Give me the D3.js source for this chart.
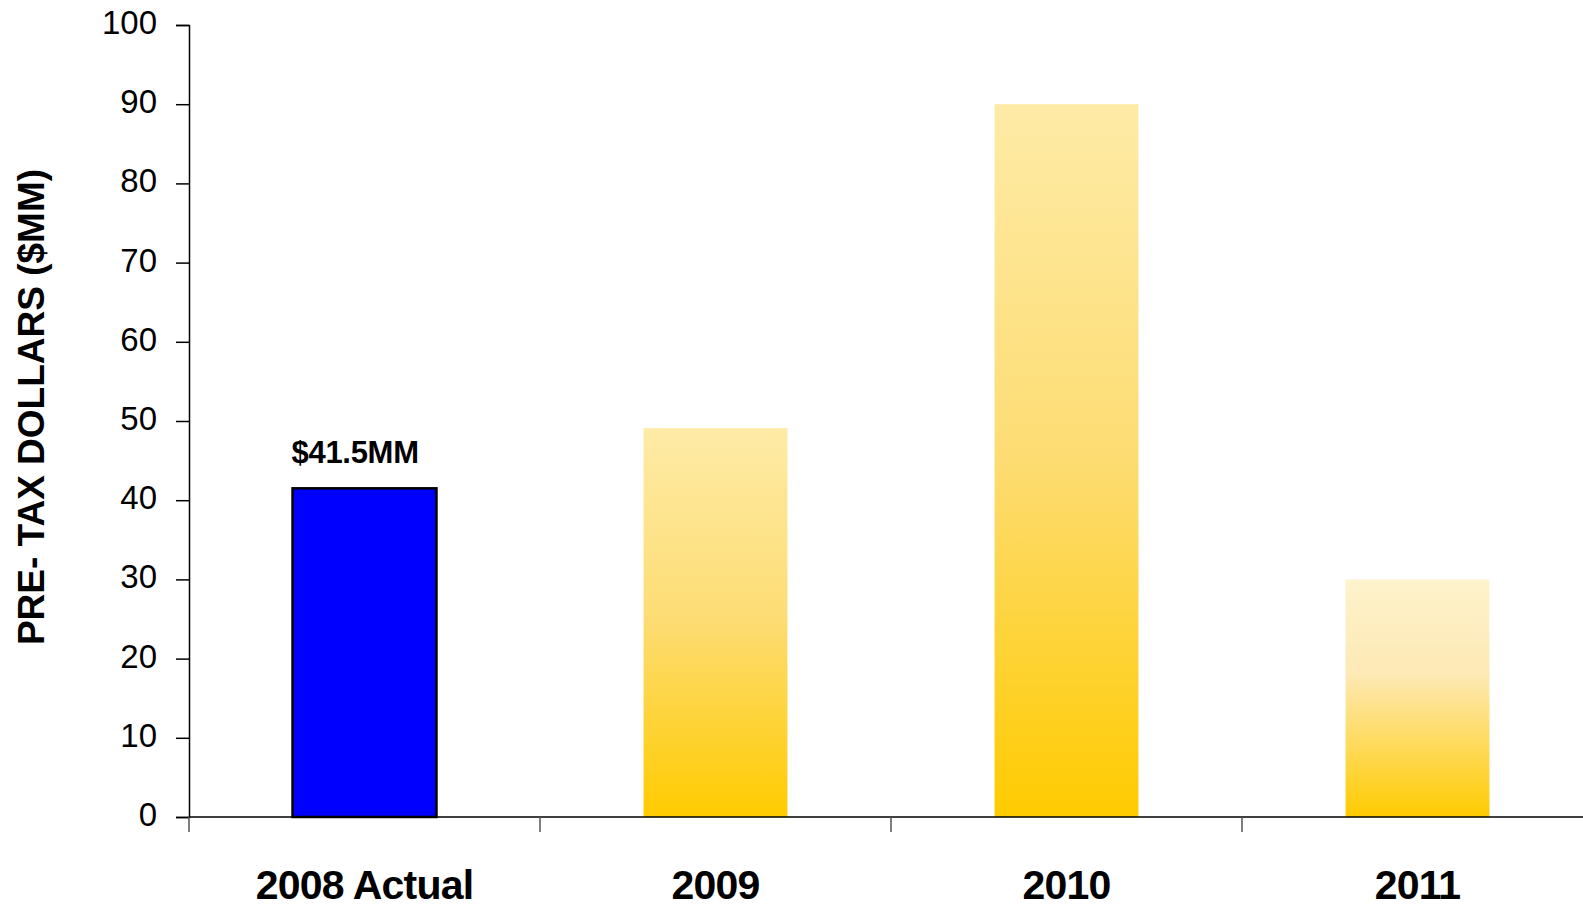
<!DOCTYPE html>
<html>
<head>
<meta charset="utf-8">
<script src="https://cdn.jsdelivr.net/npm/d3@7"></script>
<style>
    body { margin: 0; background: #fff; }
    svg { display: block; font-family: "Liberation Sans", Arial, sans-serif; }
</style>
</head>
<body>
<svg id="chart" width="1583" height="905"></svg>
<script>
// chart data
var categories = ["2008 Actual", "2009", "2010", "2011"]
var values = [41.5, 49.1, 90, 30]
var actualFlags = [true, false, false, false]
var yTicks = [0, 10, 20, 30, 40, 50, 60, 70, 80, 90, 100]
var barLabels = ["$41.5MM", "", "", ""]
var yTitle = "PRE- TAX DOLLARS ($MM)"

function drawChart() {
    "use strict";

    var data = categories.map(function(c, i) {
        return { cat: c, value: values[i], actual: actualFlags[i], label: barLabels[i] }
    })

    var svg = d3.select("#chart")
    var plotLeft = 189, plotTop = 25, plotBottom = 817
    var step = 351

    var x = d3.scaleBand()
        .domain(categories)
        .range([plotLeft, plotLeft + step * categories.length])
        .paddingInner(0.59)
        .paddingOuter(0.295)

    var y = d3.scaleLinear()
        .domain([0, 100])
        .range([plotBottom, plotTop])

    // gradients, one per projected bar
    var defs = svg.append("defs")
    data.forEach(function(d, i) {
        if (d.actual) return
        var g = defs.append("linearGradient")
            .attr("id", "grad" + i)
            .attr("x1", 0).attr("y1", 0).attr("x2", 0).attr("y2", 1)
        var short = d.value < 35
        g.append("stop").attr("offset", "0%").attr("stop-color", short ? "#fef3cc" : "#feeba6")
        g.append("stop").attr("offset", short ? "40%" : "50%").attr("stop-color", short ? "#fde9b4" : "#fddc72")
        g.append("stop").attr("offset", "100%").attr("stop-color", "#ffcb00")
    })

    // bars
    svg.selectAll("rect.bar")
        .data(data)
        .enter()
        .append("rect")
        .attr("class", "bar")
        .attr("x", function(d) { return x(d.cat) })
        .attr("y", function(d) { return y(d.value) })
        .attr("width", x.bandwidth())
        .attr("height", function(d) { return y(0) - y(d.value) })
        .attr("fill", function(d, i) { return d.actual ? "#0000ff" : "url(#grad" + i + ")" })
        .attr("stroke", function(d) { return d.actual ? "#000" : "none" })
        .attr("stroke-width", 2.5)

    // value label
    svg.selectAll("text.vlabel")
        .data(data.filter(function(d) { return d.label }))
        .enter()
        .append("text")
        .attr("class", "vlabel")
        .attr("x", function(d) { return x(d.cat) - 1 })
        .attr("y", function(d) { return y(d.value) - 25 })
        .attr("font-size", 31)
        .attr("font-weight", "bold")
        .attr("letter-spacing", -0.3)
        .attr("fill", "#000")
        .text(function(d) { return d.label })

    // y axis
    var yAxis = d3.axisLeft(y)
        .tickValues(yTicks)
        .tickSize(13)
        .tickPadding(19)

    var gy = svg.append("g")
        .attr("transform", "translate(" + plotLeft + ",0)")
        .call(yAxis)
    gy.select(".domain").attr("stroke", "#000").attr("stroke-width", 1.5)
    gy.selectAll(".tick line").attr("stroke", "#000").attr("stroke-width", 1.5)
    gy.selectAll(".tick text")
        .attr("font-size", 33)
        .attr("font-family", "'Liberation Sans', Arial, sans-serif")
        .attr("fill", "#000")
        .attr("dy", "0.26em")

    // x axis line and category separators
    svg.append("line")
        .attr("x1", plotLeft).attr("x2", 1583)
        .attr("y1", plotBottom).attr("y2", plotBottom)
        .attr("stroke", "#000").attr("stroke-width", 1.5)

    var sepOffset = x.step() * x.paddingInner() / 2
    svg.selectAll("line.sep")
        .data(categories)
        .enter()
        .append("line")
        .attr("class", "sep")
        .attr("x1", function(d) { return x(d) - sepOffset })
        .attr("x2", function(d) { return x(d) - sepOffset })
        .attr("y1", plotBottom)
        .attr("y2", plotBottom + 15)
        .attr("stroke", "#555")
        .attr("stroke-width", 1.5)

    // category labels
    svg.selectAll("text.cat")
        .data(categories)
        .enter()
        .append("text")
        .attr("class", "cat")
        .attr("x", function(d) { return x(d) + x.bandwidth() / 2 })
        .attr("y", 899)
        .attr("text-anchor", "middle")
        .attr("font-size", 41)
        .attr("font-weight", "bold")
        .attr("letter-spacing", -0.8)
        .attr("fill", "#000")
        .text(function(d) { return d })

    // y axis title
    svg.append("text")
        .attr("transform", "translate(44,407) rotate(-90)")
        .attr("text-anchor", "middle")
        .attr("font-size", 37)
        .attr("font-weight", "bold")
        .attr("fill", "#000")
        .text(yTitle)
}

drawChart()
</script>
</body>
</html>
